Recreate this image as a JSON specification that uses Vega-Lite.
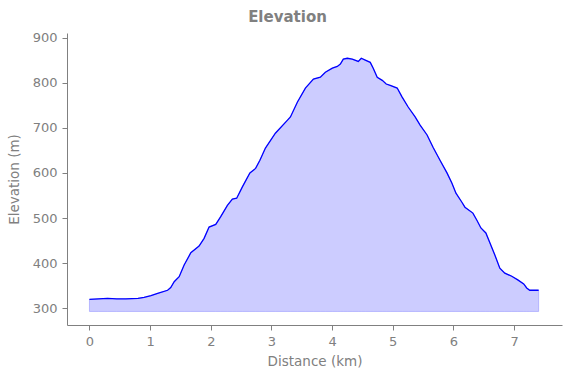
{
  "$schema": "https://vega.github.io/schema/vega-lite/v6.json",
  "autosize": {"type": "none"},
  "padding": {"left": 67, "top": 33, "right": 9, "bottom": 53},
  "width": 495,
  "height": 292,
  "background": "white",
  "title": {
    "text": "Elevation",
    "font": "DejaVu Sans",
    "fontSize": 15,
    "fontWeight": "bold",
    "color": "#808080",
    "anchor": "middle",
    "dx": -27,
    "offset": 7
  },
  "config": {
    "view": {"stroke": null},
    "font": "DejaVu Sans",
    "axis": {
      "grid": false,
      "domainColor": "#808080",
      "tickColor": "#808080",
      "labelColor": "#808080",
      "titleColor": "#808080",
      "labelFont": "DejaVu Sans",
      "titleFont": "DejaVu Sans",
      "labelFontSize": 13,
      "titleFontSize": 13.5,
      "titleFontWeight": "normal",
      "tickSize": 5,
      "labelPadding": 5,
      "domainWidth": 1,
      "tickWidth": 1
    }
  },
  "data": {
    "values": [
      {"d": 0.0, "e": 320},
      {"d": 0.15, "e": 321},
      {"d": 0.3, "e": 322},
      {"d": 0.45, "e": 321},
      {"d": 0.6, "e": 321},
      {"d": 0.8, "e": 322},
      {"d": 0.9, "e": 324},
      {"d": 1.014, "e": 328},
      {"d": 1.124, "e": 333},
      {"d": 1.288, "e": 340},
      {"d": 1.34, "e": 346},
      {"d": 1.397, "e": 359},
      {"d": 1.479, "e": 370},
      {"d": 1.561, "e": 396},
      {"d": 1.671, "e": 423},
      {"d": 1.807, "e": 438},
      {"d": 1.89, "e": 455},
      {"d": 1.972, "e": 480},
      {"d": 2.082, "e": 486},
      {"d": 2.164, "e": 503},
      {"d": 2.274, "e": 528},
      {"d": 2.356, "e": 542},
      {"d": 2.427, "e": 544},
      {"d": 2.521, "e": 569},
      {"d": 2.645, "e": 600},
      {"d": 2.739, "e": 610},
      {"d": 2.81, "e": 628},
      {"d": 2.901, "e": 655},
      {"d": 3.065, "e": 688},
      {"d": 3.265, "e": 717},
      {"d": 3.313, "e": 724},
      {"d": 3.429, "e": 757},
      {"d": 3.56, "e": 788},
      {"d": 3.692, "e": 808},
      {"d": 3.807, "e": 812},
      {"d": 3.889, "e": 823},
      {"d": 4.004, "e": 832},
      {"d": 4.086, "e": 836},
      {"d": 4.136, "e": 841},
      {"d": 4.185, "e": 852},
      {"d": 4.251, "e": 854},
      {"d": 4.333, "e": 852},
      {"d": 4.432, "e": 847},
      {"d": 4.481, "e": 854},
      {"d": 4.547, "e": 850},
      {"d": 4.629, "e": 845},
      {"d": 4.678, "e": 832},
      {"d": 4.744, "e": 812},
      {"d": 4.827, "e": 805},
      {"d": 4.892, "e": 797},
      {"d": 4.958, "e": 794},
      {"d": 5.073, "e": 788},
      {"d": 5.155, "e": 768},
      {"d": 5.254, "e": 746},
      {"d": 5.369, "e": 724},
      {"d": 5.451, "e": 706},
      {"d": 5.566, "e": 684},
      {"d": 5.664, "e": 657},
      {"d": 5.779, "e": 628},
      {"d": 5.894, "e": 600},
      {"d": 5.976, "e": 577},
      {"d": 6.042, "e": 555},
      {"d": 6.14, "e": 535},
      {"d": 6.19, "e": 524},
      {"d": 6.321, "e": 511},
      {"d": 6.387, "e": 495},
      {"d": 6.453, "e": 478},
      {"d": 6.535, "e": 467},
      {"d": 6.601, "e": 445},
      {"d": 6.683, "e": 418},
      {"d": 6.765, "e": 389},
      {"d": 6.847, "e": 378},
      {"d": 6.962, "e": 371},
      {"d": 7.061, "e": 363},
      {"d": 7.159, "e": 354},
      {"d": 7.208, "e": 345},
      {"d": 7.258, "e": 340},
      {"d": 7.405, "e": 340}
    ]
  },
  "layer": [
    {
      "mark": {"type": "area", "fill": "#0000ff", "fillOpacity": 0.2, "stroke": "#0000ff", "strokeOpacity": 0.2, "strokeWidth": 1},
      "encoding": {
        "x": {"field": "d", "type": "quantitative"},
        "y": {"field": "e", "type": "quantitative"},
        "y2": {"datum": 293}
      }
    },
    {
      "mark": {"type": "line", "color": "#0000ff", "strokeWidth": 1.3},
      "encoding": {
        "x": {
          "field": "d",
          "type": "quantitative",
          "scale": {"domain": [-0.37, 7.79], "nice": false, "zero": false},
          "axis": {"title": "Distance (km)", "values": [0, 1, 2, 3, 4, 5, 6, 7], "format": "d", "titlePadding": 6}
        },
        "y": {
          "field": "e",
          "type": "quantitative",
          "scale": {"domain": [263, 910], "nice": false, "zero": false},
          "axis": {"title": "Elevation (m)", "values": [300, 400, 500, 600, 700, 800, 900], "format": "d", "titlePadding": 11}
        }
      }
    }
  ]
}
